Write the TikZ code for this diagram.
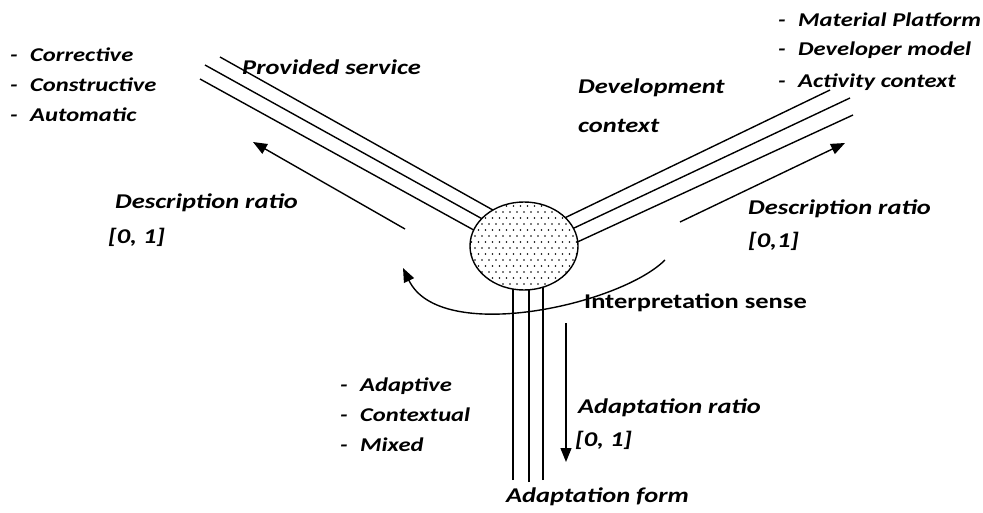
\documentclass[tikz,border=0pt]{standalone}
\usepackage{fontspec}
\setmainfont{Open Sans}
\newfontfamily\lblfont[FakeStretch=1.26]{Carlito}
\usetikzlibrary{arrows.meta,shapes.geometric}
\begin{document}
\begin{tikzpicture}[x=1pt,y=-1pt,
  lbl/.style={anchor=west,inner sep=0pt,font=\lblfont\fontsize{21}{25}\selectfont\bfseries\itshape},
  lst/.style={anchor=west,inner sep=0pt,font=\lblfont\fontsize{19.5}{24}\selectfont\bfseries\itshape},
  ulbl/.style={anchor=west,inner sep=0pt,font=\lblfont\fontsize{21}{25}\selectfont\bfseries},
  rail/.style={line width=1.4pt},
  flow/.style={line width=1.4pt,-{Triangle[length=14pt,width=11pt]}}]
\useasboundingbox (0,0) rectangle (983,513);
% rails top-left
\coordinate (tl1a) at (220,57);  \coordinate (tl1b) at (500,214);
\coordinate (tl2a) at (205,65);  \coordinate (tl2b) at (495,226);
\coordinate (tl3a) at (200,79);  \coordinate (tl3b) at (490,239);
\draw[rail] (tl1a) -- (tl1b);
\draw[rail] (tl2a) -- (tl2b);
\draw[rail] (tl3a) -- (tl3b);
% rails top-right
\coordinate (tr1a) at (830,90);  \coordinate (tr1b) at (550,225);
\coordinate (tr2a) at (850,98);  \coordinate (tr2b) at (555,237);
\coordinate (tr3a) at (853,115); \coordinate (tr3b) at (560,250);
\draw[rail] (tr1a) -- (tr1b);
\draw[rail] (tr2a) -- (tr2b);
\draw[rail] (tr3a) -- (tr3b);
% rails bottom
\coordinate (b1a) at (513,480); \coordinate (b1b) at (513,260);
\coordinate (b2a) at (529,482); \coordinate (b2b) at (529,260);
\coordinate (b3a) at (543,480); \coordinate (b3b) at (543,260);
\draw[rail] (b1a) -- (b1b);
\draw[rail] (b2a) -- (b2b);
\draw[rail] (b3a) -- (b3b);
% hub
\begin{scope}
  \fill[white] (524,246) ellipse [x radius=54, y radius=44];
  \clip (524,246) ellipse [x radius=54, y radius=44];
  \foreach \j in {0,...,16} {
    \foreach \i in {0,...,17} {
      \pgfmathsetmacro{\xx}{468+\i*7+mod(\j,2)*3.5}
      \pgfmathsetmacro{\yy}{200+\j*6}
      \fill (\xx,\yy) circle (0.85pt);
    }
  }
\end{scope}
\node[draw,line width=1.4pt,ellipse,minimum width=108pt,minimum height=88pt,inner sep=0pt] (hub) at (524,246) {};
% arrows
\coordinate (la) at (405,229); \coordinate (lb) at (253,142);
\draw[flow] (la) -- (lb);
\coordinate (ra) at (680,222); \coordinate (rb) at (845,143);
\draw[flow] (ra) -- (rb);
\coordinate (da) at (566,323); \coordinate (db) at (566,462);
\draw[flow] (da) -- (db);
\coordinate (ia) at (665,260); \coordinate (ib) at (403,268);
\draw[flow] (ia) .. controls (620,305) and (440,345) .. (ib);
% texts
\node[lst] (c1) at (10,55) {\makebox[20pt][l]{-}Corrective};
\node[lst] (c2) at (10,85) {\makebox[20pt][l]{-}Constructive};
\node[lst] (c3) at (10,115) {\makebox[20pt][l]{-}Automatic};
\node[lbl] (ps) at (242,67) {Provided service};
\node[lbl] (dc1) at (578,88) {Development};
\node[lbl] (dc2) at (578,126) {context};
\node[lst] (m1) at (778,20) {\makebox[20pt][l]{-}Material Platform};
\node[lst] (m2) at (778,50) {\makebox[20pt][l]{-}Developer model};
\node[lst] (m3) at (778,82) {\makebox[20pt][l]{-}Activity context};
\node[lbl] (dl1) at (115,203) {Description ratio};
\node[lbl] (dl2) at (108,237) {[0, 1]};
\node[lbl] (dr1) at (748,209) {Description ratio};
\node[lbl] (dr2) at (748,241) {[0,1]};
\node[ulbl] (is) at (584,303) {Interpretation sense};
\node[lst] (a1) at (340,386) {\makebox[20pt][l]{-}Adaptive};
\node[lst] (a2) at (340,415) {\makebox[20pt][l]{-}Contextual};
\node[lst] (a3) at (340,445) {\makebox[20pt][l]{-}Mixed};
\node[lbl] (ar1) at (578,408) {Adaptation ratio};
\node[lbl] (ar2) at (575,440) {[0, 1]};
\node[lbl] (af) at (506,497) {Adaptation form};
\end{tikzpicture}
\end{document}
